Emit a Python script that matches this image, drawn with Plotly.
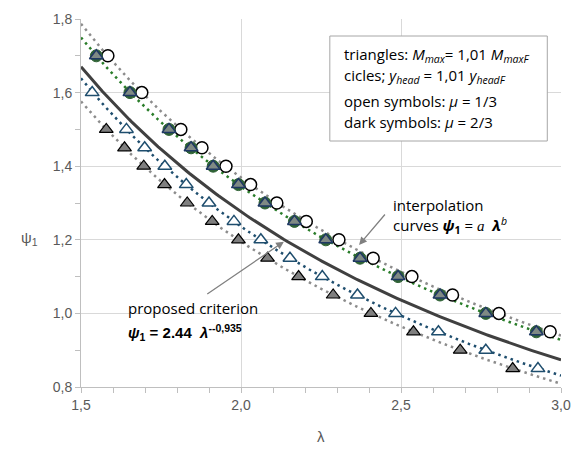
import numpy as np
import plotly.graph_objects as go

# ---- data ----
psi_dark_circ = [1.70, 1.60, 1.50, 1.45, 1.40, 1.35, 1.30, 1.25, 1.20, 1.15, 1.10, 1.05, 1.00, 0.95]
lam_dark_circ = [1.548, 1.653, 1.775, 1.844, 1.913, 1.992, 2.075, 2.167, 2.265, 2.372, 2.491, 2.622, 2.765, 2.923]

psi_open_circ = [1.70, 1.60, 1.50, 1.45, 1.40, 1.35, 1.30, 1.25, 1.20, 1.15, 1.10, 1.05, 1.00, 0.95]
lam_open_circ = [1.584, 1.690, 1.812, 1.878, 1.953, 2.030, 2.112, 2.204, 2.306, 2.413, 2.534, 2.661, 2.806, 2.966]

psi_open_tri = [1.60, 1.50, 1.45, 1.40, 1.35, 1.30, 1.25, 1.20, 1.15, 1.10, 1.05, 1.00, 0.95, 0.90, 0.85]
lam_open_tri = [1.535, 1.642, 1.699, 1.762, 1.829, 1.900, 1.978, 2.062, 2.153, 2.254, 2.364, 2.483, 2.617, 2.765, 2.928]

psi_dark_tri = [1.50, 1.45, 1.40, 1.35, 1.30, 1.25, 1.20, 1.15, 1.10, 1.05, 1.00, 0.95, 0.90, 0.85]
lam_dark_tri = [1.579, 1.636, 1.696, 1.761, 1.832, 1.910, 1.992, 2.083, 2.180, 2.288, 2.406, 2.539, 2.685, 2.849]

# proposed criterion psi1 = a * lambda^b (as printed on the chart)
crit_a = 2.44
crit_b = -0.935

x_range = [1.5, 3.0]
y_range = [0.8, 1.8]

# plot-area geometry (pixels)
X0, XW, Y0, YH = 81, 490, 19, 368


def px(xv, yv):
    return (X0 + (xv - x_range[0]) / (x_range[1] - x_range[0]) * XW,
            Y0 + (y_range[1] - yv) / (y_range[1] - y_range[0]) * YH)


def paper(xp, yp):
    return (xp - X0) / XW, 1 - (yp - Y0) / YH


def power_fit(lam, psi):
    b, loga = np.polyfit(np.log(lam), np.log(psi), 1)
    return np.exp(loga), b


lam_grid = np.linspace(x_range[0], x_range[1], 200)

fig = go.Figure()

dot = "2.5px,4px"
trend_specs = [
    (lam_open_circ, psi_open_circ, "#8c8c8c"),
    (lam_dark_circ, psi_dark_circ, "#2a7d2a"),
    (lam_open_tri, psi_open_tri, "#1f4e6e"),
    (lam_dark_tri, psi_dark_tri, "#8c8c8c"),
]
for lam, psi, col in trend_specs:
    a, b = power_fit(np.array(lam), np.array(psi))
    fig.add_trace(go.Scatter(x=lam_grid, y=a * lam_grid ** b, mode="lines",
                             line=dict(color=col, width=2.5, dash=dot),
                             hoverinfo="skip", showlegend=False))

fig.add_trace(go.Scatter(x=lam_grid, y=crit_a * lam_grid ** crit_b, mode="lines",
                         line=dict(color="#404040", width=3), showlegend=False))

MS = 12
fig.add_trace(go.Scatter(x=lam_open_circ, y=psi_open_circ, mode="markers",
                         marker=dict(symbol="circle", size=MS, color="white",
                                     line=dict(color="black", width=1.5)), showlegend=False))
fig.add_trace(go.Scatter(x=lam_dark_circ, y=psi_dark_circ, mode="markers",
                         marker=dict(symbol="circle", size=MS, color="#2f6235",
                                     line=dict(color="#2f6235", width=1)), showlegend=False))
fig.add_trace(go.Scatter(x=lam_dark_circ, y=psi_dark_circ, mode="markers",
                         marker=dict(symbol="triangle-up", size=MS, color="#7f8a84",
                                     line=dict(color="#1f3864", width=1.5)), showlegend=False))
fig.add_trace(go.Scatter(x=lam_open_tri, y=psi_open_tri, mode="markers",
                         marker=dict(symbol="triangle-up", size=MS, color="white",
                                     line=dict(color="#1f4e6e", width=1.5)), showlegend=False))
fig.add_trace(go.Scatter(x=lam_dark_tri, y=psi_dark_tri, mode="markers",
                         marker=dict(symbol="triangle-up", size=MS, color="#7f7f7f",
                                     line=dict(color="black", width=1.2)), showlegend=False))

txt_font = dict(family="Open Sans", size=15, color="black")
ann = []

box_lines = [
    "triangles: <i>M</i><sub><i>max</i></sub>= 1,01 <i>M</i><sub><i>maxF</i></sub>",
    "cicles; <i>y</i><sub><i>head</i></sub> = 1,01 <i>y</i><sub><i>headF</i></sub>",
    "open symbols: <i>μ</i> = 1/3",
    "dark symbols: <i>μ</i> = 2/3",
]
box_y = [55, 76, 101, 122]
for t, yy in zip(box_lines, box_y):
    xx, yv = paper(347, yy)
    ann.append(dict(text=t, xref="paper", yref="paper", x=xx, y=yv,
                    xanchor="left", yanchor="middle", showarrow=False, font=txt_font))

xx, yv = paper(397, 205)
ann.append(dict(text="interpolation", xref="paper", yref="paper", x=xx, y=yv,
                xanchor="left", yanchor="middle", showarrow=False, font=txt_font))
xx, yv = paper(397, 225)
ann.append(dict(text="curves <b><i>ψ</i><sub>1</sub></b> = <span style='font-family:Liberation Serif'><i>a</i></span>  <b><i>λ</i></b><sup><i>b</i></sup>",
                xref="paper", yref="paper", x=xx, y=yv,
                xanchor="left", yanchor="middle", showarrow=False, font=txt_font))
xx, yv = paper(127, 308)
ann.append(dict(text="proposed criterion", xref="paper", yref="paper", x=xx, y=yv,
                xanchor="left", yanchor="middle", showarrow=False, font=txt_font))
xx, yv = paper(127, 332)
ann.append(dict(text="<b><i>ψ</i><sub>1</sub> = 2.44  <i>λ</i><sup>--0,935</sup></b>", xref="paper", yref="paper",
                x=xx, y=yv, xanchor="left", yanchor="middle",
                showarrow=False, font=dict(family="Liberation Sans", size=15, color="black")))

# arrows
for (tipx, tipy), (tailx, taily) in [((2.369, 1.186), (392, 213)), ((2.134, 1.195), (210, 295))]:
    tx, ty = px(tipx, tipy)
    ann.append(dict(x=tipx, y=tipy, xref="x", yref="y", ax=tailx - tx, ay=taily - ty,
                    text="", showarrow=True, arrowhead=2, arrowsize=1.2, arrowwidth=1.3,
                    arrowcolor="#808080"))

# axis titles
xx, yv = paper(326, 436)
ann.append(dict(text="λ", xref="paper", yref="paper", x=xx, y=yv, xanchor="center",
                yanchor="middle", showarrow=False, font=dict(family="Liberation Sans", size=15, color="#595959")))
xx, yv = paper(28, 238)
ann.append(dict(text="ψ<sub>1</sub>", xref="paper", yref="paper", x=xx, y=yv,
                xanchor="center", yanchor="middle", showarrow=False,
                font=dict(family="Liberation Sans", size=15, color="#595959")))

fig.update_layout(annotations=ann)

x0p, y1p = paper(335, 36)
x1p, y0p = paper(557, 141)
fig.add_shape(type="rect", xref="paper", yref="paper", x0=x0p, x1=x1p, y0=y0p, y1=y1p,
              line=dict(color="#a6a6a6", width=1), fillcolor="white", layer="above")

axis_common = dict(showline=True, linecolor="#bfbfbf", linewidth=1, gridcolor="#d9d9d9", gridwidth=1,
                   ticks="outside", ticklen=5, tickcolor="#bfbfbf", zeroline=False,
                   tickfont=dict(family="Liberation Sans", size=14, color="#595959"), tickformat=".1f")
fig.update_xaxes(range=x_range, dtick=0.5, tick0=1.5,
                 minor=dict(dtick=0.1, ticks="outside", ticklen=5, tickcolor="#bfbfbf", showgrid=False),
                 **axis_common)
fig.update_yaxes(range=y_range, dtick=0.2, tick0=0.8,
                 minor=dict(dtick=0.1, ticks="outside", ticklen=5, tickcolor="#bfbfbf", showgrid=False),
                 **axis_common)

fig.update_layout(width=582, height=449, margin=dict(l=81, r=11, t=19, b=62),
                  plot_bgcolor="white", paper_bgcolor="white", separators=",.", showlegend=False)

fig.write_html("out.html")
